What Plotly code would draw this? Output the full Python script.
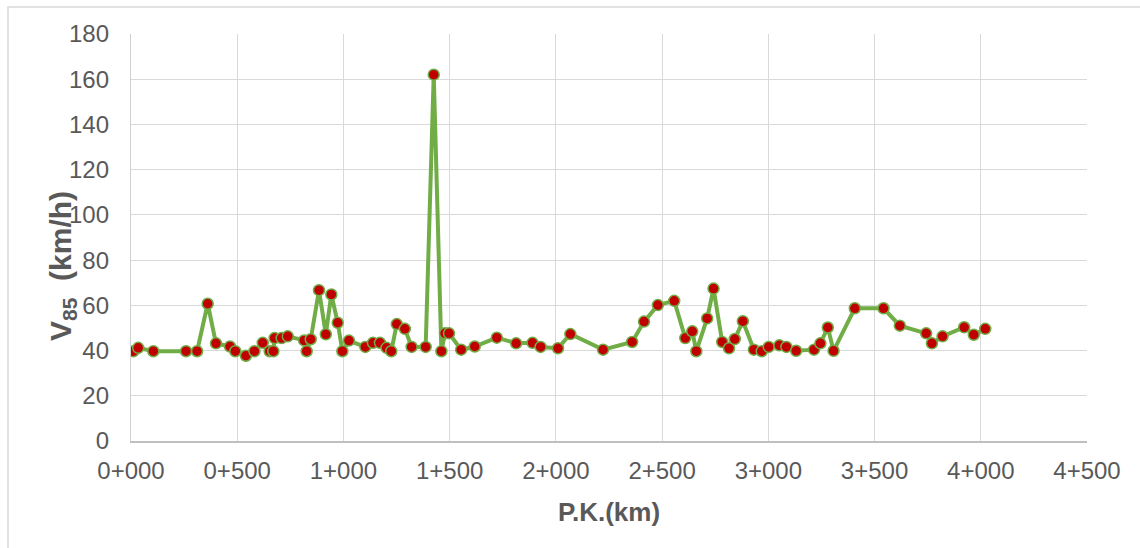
import plotly.graph_objects as go

pk = [11, 34, 105, 259, 311, 361, 400, 466, 491, 541, 581, 620, 653, 670, 676, 709, 738,
      815, 827, 846, 885, 917, 943, 973, 995, 1026, 1103, 1139, 1172, 1203, 1225, 1251,
      1289, 1321, 1387, 1425, 1461, 1478, 1497, 1554, 1618, 1722, 1813, 1890, 1928, 2010,
      2068, 2222, 2359, 2415, 2480, 2557, 2609, 2642, 2661, 2712, 2742, 2783, 2815, 2842,
      2880, 2932, 2969, 3002, 3052, 3085, 3131, 3215, 3245, 3280, 3307, 3407, 3542, 3619,
      3743, 3770, 3820, 3922, 3967, 4021]
v85 = [39.7, 41.2, 39.7, 39.7, 39.7, 60.7, 43.2, 41.8, 39.7, 37.7, 39.7, 43.4, 39.7, 39.7,
       45.5, 45.5, 46.3, 44.5, 39.7, 45.0, 66.7, 47.2, 64.8, 52.3, 39.7, 44.4, 41.6, 43.4,
       43.4, 41.2, 39.7, 51.7, 49.6, 41.6, 41.6, 162.0, 39.7, 47.6, 47.6, 40.4, 41.8, 45.7,
       43.2, 43.4, 41.6, 41.0, 47.3, 40.4, 43.8, 52.8, 60.1, 62.0, 45.5, 48.5, 39.7, 54.2,
       67.4, 43.8, 41.0, 45.1, 53.0, 40.4, 39.7, 41.6, 42.3, 41.6, 39.9, 40.4, 43.2, 50.2,
       39.9, 58.7, 58.7, 51.0, 47.6, 43.2, 46.3, 50.3, 47.0, 49.6]

x_tickvals = [0, 500, 1000, 1500, 2000, 2500, 3000, 3500, 4000, 4500]
x_ticktext = ["0+000", "0+500", "1+000", "1+500", "2+000", "2+500", "3+000", "3+500", "4+000", "4+500"]
y_tickvals = [0, 20, 40, 60, 80, 100, 120, 140, 160, 180]

FONT = "Liberation Sans, Arial, sans-serif"
GREY = "#595959"

fig = go.Figure()
fig.add_trace(go.Scatter(
    x=pk, y=v85, mode="lines+markers",
    line=dict(color="#70AD47", width=4),
    marker=dict(color="#C00000", size=11, line=dict(color="#70AD47", width=1.5)),
    showlegend=False,
))

L, R, T, B = 131, 53, 34, 107
W, H = 1140, 548
pw, ph = W - L - R, H - T - B

fig.update_layout(
    width=W, height=H,
    margin=dict(l=L, r=R, t=T, b=B),
    paper_bgcolor="white", plot_bgcolor="white",
    font=dict(family=FONT, color=GREY),
    xaxis=dict(
        range=[0, 4500], tickvals=x_tickvals, ticktext=x_ticktext,
        showgrid=True, gridcolor="#d9d9d9", gridwidth=1.3,
        showline=True, linecolor="#bfbfbf", linewidth=1.5,
        zeroline=False, ticks="", tickfont=dict(size=24, color=GREY),
        ticklabelstandoff=7,
        title=dict(text="<b>P.K.(km)</b>", font=dict(size=26, color=GREY), standoff=20),
    ),
    yaxis=dict(
        range=[0, 180], tickvals=y_tickvals,
        showgrid=True, gridcolor="#d9d9d9", gridwidth=1.3,
        showline=True, linecolor="#d0d0d0", linewidth=1.3,
        zeroline=False, ticks="", tickfont=dict(size=24, color=GREY),
        ticklabelstandoff=16,
    ),
    annotations=[dict(
        text="<b>V<sub>85</sub>  (km/h)</b>", textangle=-90,
        xref="paper", yref="paper",
        x=(62 - L) / pw, y=(H - B - 266) / ph,
        xanchor="center", yanchor="middle", showarrow=False,
        font=dict(size=30, color=GREY, family=FONT),
    )],
    shapes=[dict(
        type="rect", xref="paper", yref="paper",
        x0=(8 - L) / pw, x1=(W + 20 - L) / pw,
        y0=(H - B - (H + 20)) / ph, y1=(H - B - 7) / ph,
        line=dict(color="#d9d9d9", width=1.5), fillcolor="rgba(0,0,0,0)", layer="below",
    )],
)

fig.write_html("out.html")
